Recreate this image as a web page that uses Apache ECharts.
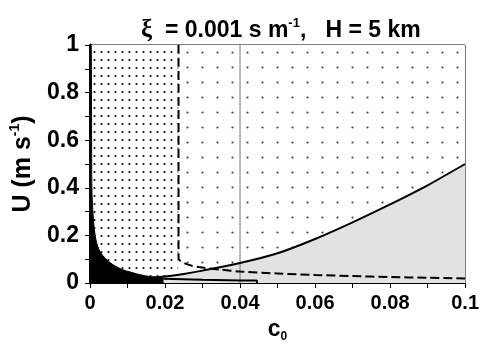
<!DOCTYPE html>
<html>
<head>
<meta charset="utf-8">
<script src="https://cdn.jsdelivr.net/npm/echarts@6/dist/echarts.min.js"></script>
<style>
  html, body { margin: 0; padding: 0; background: #fff; }
  #chart { width: 482px; height: 352px; }
</style>
</head>
<body>
<div id="chart"></div>
<script>
// axis ticks
const xTicks = [0, 0.02, 0.04, 0.06, 0.08, 0.1];
const xTickLabels = ['0', '0.02', '0.04', '0.06', '0.08', '0.1'];
const yTicks = [0, 0.2, 0.4, 0.6, 0.8, 1];
const yTickLabels = ['0', '0.2', '0.4', '0.6', '0.8', '1'];

// black region (upper edge)
const blackC0 = [0, 0.0003, 0.0005, 0.0009, 0.0016, 0.0029, 0.0055, 0.0085, 0.011, 0.013, 0.016, 0.0196];
const blackU  = [1, 1, 0.4, 0.27, 0.18, 0.126, 0.084, 0.057, 0.045, 0.036, 0.027, 0.02];

// lower solid curve after the black region
const lowC0 = [0.0196, 0.03, 0.04, 0.0445, 0.0445];
const lowU  = [0.018, 0.014, 0.011, 0.01, 0];

// rising solid curve (grey below it)
const riseC0 = [0.016, 0.02, 0.025, 0.03, 0.04, 0.05, 0.06, 0.07, 0.08, 0.09, 0.1];
const riseU  = [0.022, 0.027, 0.038, 0.052, 0.084, 0.125, 0.185, 0.255, 0.33, 0.41, 0.5];

// dashed boundary
const dashC0 = [0.0236, 0.0236, 0.026, 0.03, 0.035, 0.04, 0.05, 0.06, 0.07, 0.08, 0.09, 0.1];
const dashU  = [1, 0.105, 0.078, 0.065, 0.056, 0.048, 0.04, 0.034, 0.029, 0.025, 0.022, 0.019];

// dotted zones (left: dense, right: sparse)
const denseC0 = [0, 0.0236];
const sparseC0 = [0.0236, 0.1];
const zoneTop = 1;

// vertical reference line
const refC0 = 0.04;

function zip(xs, ys) { return xs.map((x, i) => [x, ys[i]]); }

// dot textures
function dots(w, h, r, color) {
    let c = document.createElement('canvas');
    c.width = w; c.height = h;
    let g = c.getContext('2d');
    g.fillStyle = '#fff';
    g.fillRect(0, 0, w, h);
    g.fillStyle = color;
    g.beginPath();
    g.arc(w / 2, h / 2, r, 0, Math.PI * 2);
    g.fill();
    return c;
}
const densePat = { image: dots(7, 8, 1.1, '#111'), repeat: 'repeat' };
const sparsePat = { image: dots(15, 15, 1.1, '#444'), repeat: 'repeat' };

const bold = 'Liberation Sans';
let chart = echarts.init(document.getElementById('chart'));

let option = {
    animation: false,
    title: {
        left: 136,
        top: 12,
        text: '{xi|ξ}{b|  = 0.001 s m}{sup|-1}{b|,   H = 5 km}',
        textStyle: {
            rich: {
                xi: { fontFamily: 'Liberation Serif', fontSize: 25, color: '#000', lineHeight: 28 },
                b: { fontFamily: bold, fontWeight: 'bold', fontSize: 23, color: '#000', lineHeight: 28 },
                sup: { fontFamily: bold, fontWeight: 'bold', fontSize: 13, color: '#000', verticalAlign: 'top' }
            }
        }
    },
    grid: {
        left: 88, right: 12, top: 45, bottom: 69,
        show: true, borderColor: '#000', borderWidth: 1
    },
    xAxis: {
        type: 'value', min: 0, max: 0.1, interval: 0.02,
        name: '{b|c}{sub|0}',
        nameLocation: 'middle', nameGap: 33,
        nameTextStyle: {
            rich: {
                b: { fontFamily: bold, fontWeight: 'bold', fontSize: 23, color: '#000', lineHeight: 26 },
                sub: { fontFamily: bold, fontWeight: 'bold', fontSize: 12, color: '#000', verticalAlign: 'bottom' }
            }
        },
        axisLine: { lineStyle: { color: '#000', width: 1 } },
        axisTick: { length: 5, lineStyle: { color: '#000' } },
        minorTick: { show: true, splitNumber: 2, length: 5, lineStyle: { color: '#000' } },
        splitLine: { show: false },
        axisLabel: {
            margin: 10, color: '#000', fontFamily: bold, fontWeight: 'bold', fontSize: 20,
            formatter: v => xTickLabels[xTicks.findIndex(t => Math.abs(t - v) < 1e-9)]
        }
    },
    yAxis: {
        type: 'value', min: 0, max: 1, interval: 0.2,
        name: '{b|U (m s}{sup|-1}{b|)}',
        nameLocation: 'middle', nameGap: 52, nameRotate: 90,
        nameTextStyle: {
            rich: {
                b: { fontFamily: bold, fontWeight: 'bold', fontSize: 25, color: '#000', lineHeight: 30 },
                sup: { fontFamily: bold, fontWeight: 'bold', fontSize: 14, color: '#000', verticalAlign: 'top' }
            }
        },
        axisLine: { show: true, lineStyle: { color: '#000', width: 3 } },
        axisTick: { show: true, length: 5, lineStyle: { color: '#000' } },
        minorTick: { show: true, splitNumber: 2, length: 5, lineStyle: { color: '#000' } },
        splitLine: { show: false },
        axisLabel: {
            margin: 11, color: '#000', fontFamily: bold, fontWeight: 'bold', fontSize: 23,
            formatter: v => yTickLabels[yTicks.findIndex(t => Math.abs(t - v) < 1e-9)]
        }
    },
    series: [
        {   // dense dots
            type: 'line', z: 1, symbol: 'none', silent: true,
            data: denseC0.map(c => [c, zoneTop]),
            lineStyle: { width: 0 },
            areaStyle: { color: densePat, opacity: 1 }
        },
        {   // sparse dots
            type: 'line', z: 1, symbol: 'none', silent: true,
            data: sparseC0.map(c => [c, zoneTop]),
            lineStyle: { width: 0 },
            areaStyle: { color: sparsePat, opacity: 1 }
        },
        {   // white under dashed curve
            type: 'line', z: 2, symbol: 'none', silent: true, smooth: 0.3,
            data: zip(dashC0, dashU),
            lineStyle: { width: 0 },
            areaStyle: { color: '#fff', opacity: 1 }
        },
        {   // grey below rising curve
            type: 'line', z: 3, symbol: 'none', silent: true, smooth: 0.3,
            data: zip(riseC0, riseU),
            lineStyle: { width: 0 },
            areaStyle: { color: '#e2e2e2', opacity: 1 }
        },
        {   // vertical reference line
            type: 'line', z: 4, symbol: 'none', silent: true,
            data: [[refC0, 0], [refC0, 1]],
            lineStyle: { color: '#777', width: 1 }
        },
        {   // black region
            type: 'line', z: 5, symbol: 'none', silent: true, smooth: 0.3,
            data: zip(blackC0, blackU),
            lineStyle: { color: '#000', width: 1 },
            areaStyle: { color: '#000', opacity: 1 }
        },
        {   // lower solid curve
            type: 'line', z: 6, symbol: 'none', silent: true,
            data: zip(lowC0, lowU),
            lineStyle: { color: '#000', width: 2 }
        },
        {   // rising solid curve
            type: 'line', z: 6, symbol: 'none', silent: true, smooth: 0.3,
            data: zip(riseC0, riseU),
            lineStyle: { color: '#000', width: 2 }
        },
        {   // dashed curve
            type: 'line', z: 6, symbol: 'none', silent: true, smooth: 0.3,
            data: zip(dashC0, dashU),
            lineStyle: { color: '#000', width: 2, type: [9, 4] }
        }
    ]
};
chart.setOption(option);
</script>
</body>
</html>
